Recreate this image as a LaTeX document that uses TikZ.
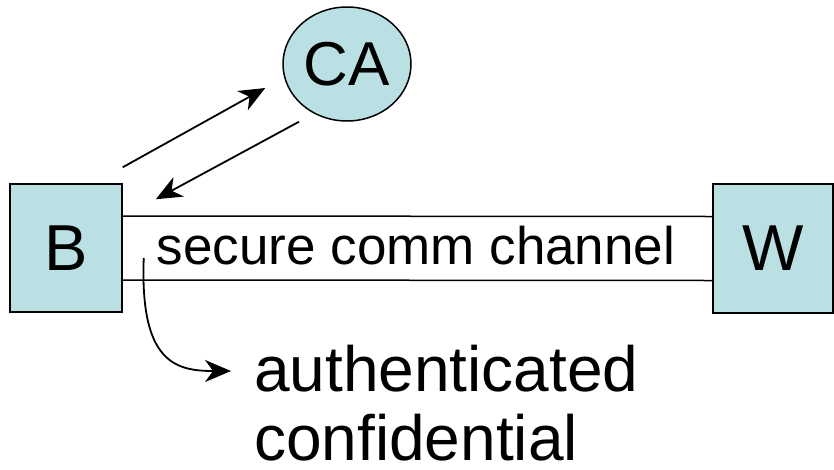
\documentclass[tikz,border=0pt]{standalone}
\usepackage{fontspec}
\setmainfont{Liberation Sans}
\usetikzlibrary{shapes.geometric,arrows.meta}

\definecolor{boxfill}{RGB}{186,224,227}

\begin{document}
\begin{tikzpicture}[x=1pt,y=-1pt]
    \tikzstyle{party}=[draw=black, line width=1.5pt, fill=boxfill, inner sep=0pt]
    \tikzstyle{msg}=[line width=1.8pt, -{Stealth[length=26pt,width=22pt,inset=8pt]}]
    \useasboundingbox (0,0) rectangle (834,469);
    \node [party, minimum width=112pt, minimum height=128pt] (B) at (66,248) {\fontsize{65}{70}\selectfont B};
    \node [party, minimum width=120pt, minimum height=129pt] (W) at (773,248.5) {\fontsize{65}{70}\selectfont W};
    \node [party, ellipse, minimum width=128pt, minimum height=114pt] (CA) at (347,64) {\fontsize{62}{66}\selectfont CA};
    \draw [line width=1.5pt] ([yshift=32pt]B.east) -- ([yshift=32pt]W.west);
    \draw [line width=1.5pt] ([yshift=-32pt]B.east) -- ([yshift=-32pt]W.west);
    \node [anchor=base, inner sep=0pt] (chan) at (416,264) {\fontsize{53}{58}\selectfont secure comm channel};
    \node [anchor=base west, inner sep=0pt] (auth) at (254,391) {\fontsize{64}{70}\selectfont authenticated};
    \node [anchor=base west, inner sep=0pt, text depth=0pt] (conf) at (254,460) {\fontsize{64}{70}\selectfont confidential};
    \coordinate (bout) at ([yshift=16pt]B.north east);
    \coordinate (caout) at ([xshift=-17pt,yshift=-24pt]CA.west);
    \coordinate (cain) at ([xshift=-48pt]CA.south);
    \coordinate (bin) at ([xshift=33pt,yshift=-16pt]B.north east);
    \coordinate (props) at ([xshift=21pt,yshift=-10pt]B.east);
    \coordinate (proptip) at ([xshift=-23pt,yshift=20pt]auth.base west);
    \draw [msg] (bout) -- (caout);
    \draw [msg] (cain) -- (bin);
    \draw [msg] (props) .. controls +(-4,105) and +(-55,0) .. (proptip);
\end{tikzpicture}
\end{document}
